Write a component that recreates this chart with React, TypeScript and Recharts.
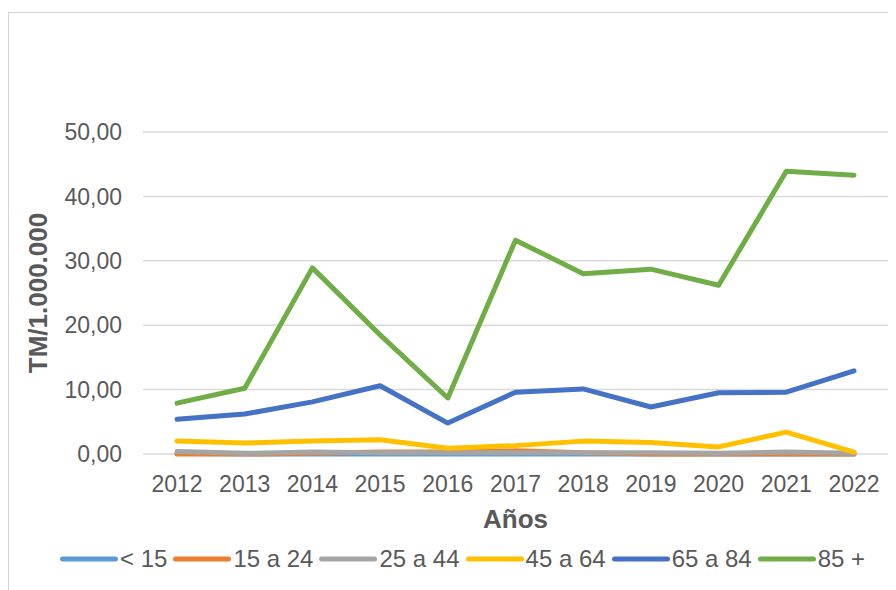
import React from 'react';
import { LineChart, Line, XAxis, YAxis, CartesianGrid, Legend } from 'recharts';

const years = ['2012', '2013', '2014', '2015', '2016', '2017', '2018', '2019', '2020', '2021', '2022'];
const under15 = [0.1, 0, 0, 0, 0, 0, 0, 0, 0, 0, 0];
const age15to24 = [0, 0, 0.1, 0.3, 0.3, 0.5, 0.2, 0, 0, 0, 0];
const age25to44 = [0.4, 0.1, 0.3, 0.2, 0.2, 0.2, 0.2, 0.2, 0.1, 0.3, 0.1];
const age45to64 = [2.0, 1.7, 2.0, 2.2, 0.9, 1.3, 2.0, 1.8, 1.1, 3.4, 0.3];
const age65to84 = [5.4, 6.2, 8.1, 10.6, 4.8, 9.6, 10.1, 7.3, 9.5, 9.6, 12.9];
const age85plus = [7.9, 10.2, 28.9, 18.5, 8.7, 33.2, 28.0, 28.7, 26.2, 43.9, 43.3];
const yTicks = [0, 10, 20, 30, 40, 50];

const seriesDefs = [
  { key: 'a', name: '< 15', values: under15, color: '#5B9BD5' },
  { key: 'b', name: '15 a 24', values: age15to24, color: '#ED7D31' },
  { key: 'c', name: '25 a 44', values: age25to44, color: '#A5A5A5' },
  { key: 'd', name: '45 a 64', values: age45to64, color: '#FFC000' },
  { key: 'e', name: '65 a 84', values: age65to84, color: '#4472C4' },
  { key: 'f', name: '85 +', values: age85plus, color: '#70AD47' },
];

const data = years.map((y, i) => {
  const row: Record<string, any> = { year: y };
  seriesDefs.forEach((s) => {
    row[s.key] = s.values[i];
  });
  return row;
});

const FONT = '"Liberation Sans", Arial, sans-serif';
const TEXT = '#595959';

const fmt = (v: number) => v.toFixed(2).replace('.', ',');

const LegendContent = () => (
  <div style={{ display: 'flex', alignItems: 'center', height: 30, fontFamily: FONT, fontSize: 24, color: TEXT, whiteSpace: 'nowrap' }}>
    {seriesDefs.map((s) => (
      <div key={s.key} style={{ display: 'flex', alignItems: 'center', marginRight: 6 }}>
        <svg width={58} height={10} style={{ display: 'block' }}>
          <line x1={2.5} y1={5} x2={55.5} y2={5} stroke={s.color} strokeWidth={5} strokeLinecap="round" />
        </svg>
        <span style={{ marginLeft: 2 }}>{s.name}</span>
      </div>
    ))}
  </div>
);

export default function App() {
  return (
    <div style={{ paddingTop: 4 }}>
      <div style={{ width: 880, height: 578, borderLeft: '1px solid #d0d0d0', borderTop: '1px solid #d0d0d0', boxSizing: 'border-box', background: '#fff' }}>
        <LineChart width={879} height={577} data={data} margin={{ top: 119, right: 0, left: 0, bottom: 24 }}>
          <CartesianGrid vertical={false} stroke="#d9d9d9" strokeWidth={1.5} />
          <XAxis
            dataKey="year"
            axisLine={false}
            tickLine={false}
            tickSize={0}
            tickMargin={22}
            height={82}
            padding={{ left: 34, right: 34 }}
            tick={{ fontFamily: FONT, fontSize: 23, fill: TEXT }}
            interval={0}
            label={{ value: 'Años', position: 'insideBottom', offset: 8, style: { fontFamily: FONT, fontSize: 26, fontWeight: 'bold', fill: TEXT } }}
          />
          <YAxis
            domain={[0, 50]}
            ticks={yTicks}
            width={134}
            axisLine={false}
            tickLine={false}
            tickSize={0}
            tickMargin={21}
            tickFormatter={fmt}
            tick={{ fontFamily: FONT, fontSize: 23, fill: TEXT }}
            label={{ value: 'TM/1.000.000', angle: -90, position: 'insideLeft', offset: 29, style: { textAnchor: 'middle', fontFamily: FONT, fontSize: 26, fontWeight: 'bold', fill: TEXT } }}
          />
          <Legend verticalAlign="bottom" height={30} content={<LegendContent />} wrapperStyle={{ left: 51, width: 'auto', top: 531 }} />
          {seriesDefs.map((s) => (
            <Line
              key={s.key}
              type="linear"
              dataKey={s.key}
              name={s.name}
              stroke={s.color}
              strokeWidth={5}
              strokeLinejoin="round"
              strokeLinecap="round"
              dot={false}
              activeDot={false}
              isAnimationActive={false}
            />
          ))}
        </LineChart>
      </div>
    </div>
  );
}
